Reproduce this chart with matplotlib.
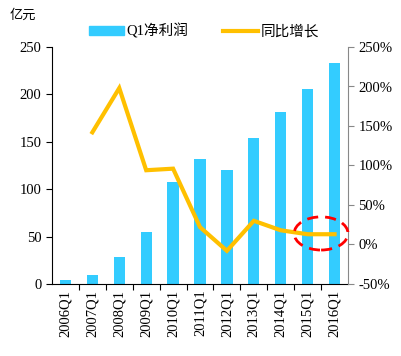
import matplotlib
matplotlib.use('Agg')
import matplotlib.pyplot as plt
from matplotlib.patches import Ellipse
from matplotlib.lines import Line2D
from matplotlib.patches import Patch

plt.rcParams['font.family'] = ['Liberation Serif', 'Noto Sans CJK SC', 'DejaVu Sans']

## data
quarters = ['2006Q1', '2007Q1', '2008Q1', '2009Q1', '2010Q1', '2011Q1',
            '2012Q1', '2013Q1', '2014Q1', '2015Q1', '2016Q1']
profit = [4.5, 9.5, 28, 55, 108, 132, 120, 154, 181, 206, 233]  # 亿元
growth = [None, 142, 198, 94, 96, 22, -8, 30, 18, 13, 13]  # %

x = list(range(len(quarters)))

fig = plt.figure(figsize=(4.01, 3.56), dpi=100)
ax = fig.add_axes([52/401, 1 - 284/356, 296/401, 237/356])
ax2 = ax.twinx()

ax.bar(x, profit, width=0.42, color='#33CCFF', zorder=2)
ax.set_ylim(0, 250)
ax.set_xlim(-0.5, len(x) - 0.5)
ax.set_yticks([0, 50, 100, 150, 200, 250])
ax.set_xticks([i + 0.5 for i in x[:-1]], minor=False)
ax.set_xticklabels([])
ax.set_xticks(x, minor=True)
ax.set_xticklabels(quarters, minor=True, rotation=90, fontsize=10.5)
ax.tick_params(axis='x', which='minor', length=0, pad=4)
ax.tick_params(axis='x', which='major', length=4, direction='out', width=0.8)
ax.tick_params(axis='y', length=4, direction='out', labelsize=10.5, width=0.8)

gx = [i for i, g in zip(x, growth) if g is not None]
gy = [g for g in growth if g is not None]
ax2.plot(gx, gy, color='#FFC000', lw=3, zorder=3, solid_joinstyle='miter')
ax2.set_ylim(-50, 250)
ax2.set_yticks([-50, 0, 50, 100, 150, 200, 250])
ax2.set_yticklabels(['%d%%' % v for v in [-50, 0, 50, 100, 150, 200, 250]])
ax2.tick_params(axis='y', length=4, direction='out', labelsize=10.5, color='#888888', width=0.8)

for a in (ax, ax2):
    a.spines['top'].set_visible(False)
ax.spines['right'].set_visible(False)
ax2.spines['left'].set_visible(False)
ax2.spines['bottom'].set_visible(False)
ax2.spines['right'].set_color('#888888')

ell = Ellipse((9.5, 14), 2.0, 42, fill=False, ec='#FF0000', lw=2,
              ls=(0, (4, 2.5)), clip_on=False, zorder=4)
ax2.add_patch(ell)

fig.text(10/401, 1 - 15/356, '亿元', fontsize=9.5, va='center',
         family=['Noto Sans CJK SC'])

handles = [Patch(color='#33CCFF'), Line2D([], [], color='#FFC000', lw=3)]
fig.legend(handles, ['Q1净利润', '同比增长'], loc='center',
           bbox_to_anchor=(204/401, 1 - 31/356), ncol=2, frameon=False,
           fontsize=10.5, handlelength=2.4, handleheight=0.55,
           columnspacing=2.4, handletextpad=0.15)

fig.savefig('out.png', dpi=100)
